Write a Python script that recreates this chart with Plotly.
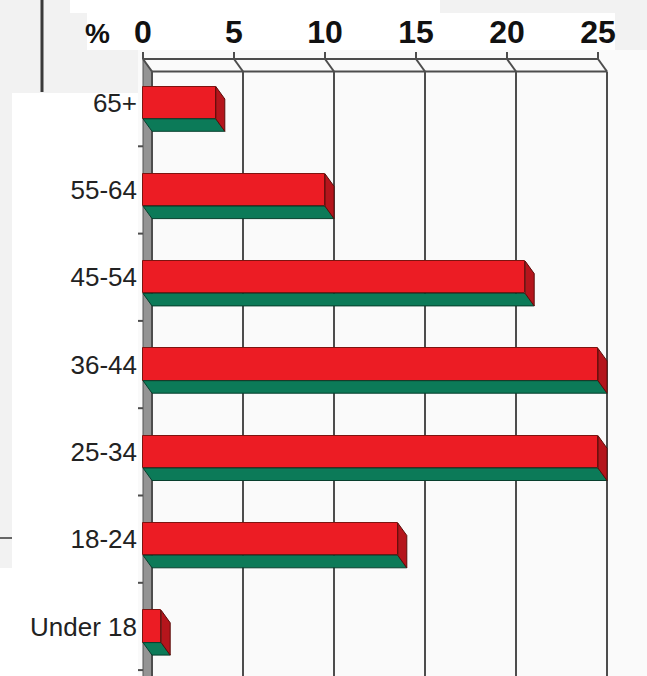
import plotly.graph_objects as go

# ---- data ----
categories = ["65+", "55-64", "45-54", "36-44", "25-34", "18-24", "Under 18"]
values = [4, 10, 21, 25, 25, 14, 1]
x_ticks = [0, 5, 10, 15, 20, 25]
x_tick_labels = ["0", "5", "10", "15", "20", "25"]
unit_label = "%"

# ---- layout constants ----
W, H = 647, 676
PLOT_L, PLOT_T = 138, 50          # plot area left / top (px)
ZERO_PX = 143                     # x pixel of value 0 on the front plane
PX_PER_UNIT = 18.2
TOP_EDGE_PX = 59                  # y pixel of the front top edge
PX_PER_CAT = 87.3
DEPTH_PX = (9, 12.5)              # 3D depth offset (right, down)

x_min = (PLOT_L - ZERO_PX) / PX_PER_UNIT
x_max = (W - ZERO_PX) / PX_PER_UNIT
y_top = (PLOT_T - TOP_EDGE_PX) / PX_PER_CAT - 0.5
y_bot = (H - TOP_EDGE_PX) / PX_PER_CAT - 0.5
DX = DEPTH_PX[0] / PX_PER_UNIT
DY = DEPTH_PX[1] / PX_PER_CAT
BAR_W = 0.37
x_last = x_ticks[-1]

RED = "#ec1c24"
RED_SIDE = "#b5151c"
GREEN = "#0c7a58"
GRID = "#4d4d4d"

pos = list(range(len(categories)))

fig = go.Figure()

# front faces of bars
fig.add_trace(go.Bar(
    x=values, y=pos, orientation="h", width=BAR_W,
    marker=dict(color=RED, line=dict(color="#7d1410", width=1)),
    hoverinfo="skip", showlegend=False,
))

# 3D faces derived from the values
for c, v in zip(pos, values):
    yb = c + BAR_W / 2
    yt = c - BAR_W / 2
    fig.add_trace(go.Scatter(
        x=[0, v, v + DX, DX, 0], y=[yb, yb, yb + DY, yb + DY, yb],
        mode="lines", fill="toself", fillcolor=GREEN,
        line=dict(color="#073f2d", width=1), hoverinfo="skip", showlegend=False,
    ))
    fig.add_trace(go.Scatter(
        x=[v, v + DX, v + DX, v, v], y=[yt, yt + DY, yb + DY, yb, yt],
        mode="lines", fill="toself", fillcolor=RED_SIDE,
        line=dict(color="#5a0d0a", width=1), hoverinfo="skip", showlegend=False,
    ))

shapes = []
# left wall
shapes.append(dict(type="path", layer="below",
                   path=f"M 0 -0.5 L {DX} {-0.5 + DY} L {DX} {y_bot + 1} L 0 {y_bot + 1} Z",
                   fillcolor="#949494", line=dict(color="#555555", width=1)))
# top edges
shapes.append(dict(type="line", layer="below", x0=0, y0=-0.5, x1=x_last, y1=-0.5,
                   line=dict(color=GRID, width=2)))
shapes.append(dict(type="line", layer="below", x0=DX, y0=-0.5 + DY, x1=x_last + DX, y1=-0.5 + DY,
                   line=dict(color=GRID, width=2)))
for k in x_ticks:
    shapes.append(dict(type="line", layer="below", x0=k, y0=-0.5, x1=k, y1=-0.5 - 7 / PX_PER_CAT,
                       line=dict(color=GRID, width=2)))
    shapes.append(dict(type="line", layer="below", x0=k, y0=-0.5, x1=k + DX, y1=-0.5 + DY,
                       line=dict(color=GRID, width=2)))
    shapes.append(dict(type="line", layer="below", x0=k + DX, y0=-0.5 + DY, x1=k + DX, y1=y_bot + 1,
                       line=dict(color=GRID, width=2)))
# category boundary ticks on the wall
for c in pos:
    shapes.append(dict(type="line", layer="below", x0=x_min, y0=c + 0.5, x1=0, y1=c + 0.5,
                       line=dict(color=GRID, width=2)))


# decorations in the margins (paper coords from pixels)
def px_x(p):
    return (p - PLOT_L) / (W - PLOT_L)


def px_y(p):
    return (H - p) / (H - PLOT_T)


def rect(x0, y0, x1, y1, color):
    return dict(type="rect", xref="paper", yref="paper", layer="below",
                x0=px_x(x0), x1=px_x(x1), y0=px_y(y1), y1=px_y(y0),
                fillcolor=color, line=dict(width=0))


shapes.append(rect(12, 93, PLOT_L, H, "#ffffff"))
shapes.append(rect(0, 568, 12, H, "#ffffff"))
shapes.append(rect(70, 0, 440, 13, "#ffffff"))
shapes.append(rect(87, 13, 615, PLOT_T, "#ffffff"))
shapes.append(dict(type="line", xref="paper", yref="paper",
                   x0=px_x(42), x1=px_x(42), y0=px_y(0), y1=px_y(92),
                   line=dict(color="#3a3a3a", width=3)))
shapes.append(dict(type="line", xref="paper", yref="paper",
                   x0=px_x(0), x1=px_x(12), y0=px_y(538), y1=px_y(538),
                   line=dict(color="#666666", width=2)))

fig.update_layout(
    width=W, height=H,
    margin=dict(l=PLOT_L, r=0, t=PLOT_T, b=0, pad=0),
    paper_bgcolor="#f2f2f2",
    plot_bgcolor="#fafafa",
    shapes=shapes,
    bargap=0,
    annotations=[dict(text=unit_label, xref="paper", yref="paper",
                      x=px_x(97), y=px_y(34), xanchor="center", yanchor="middle",
                      showarrow=False,
                      font=dict(family="Liberation Sans", size=28, color="#111", weight="bold"))],
    xaxis=dict(range=[x_min, x_max], side="top", tickvals=x_ticks, ticktext=x_tick_labels,
               showgrid=False, zeroline=False, showline=False, ticks="", automargin=False,
               tickfont=dict(family="Liberation Sans", size=32, color="#111", weight="bold"),
               fixedrange=True),
    yaxis=dict(range=[y_bot, y_top], tickvals=pos, ticktext=categories, automargin=False,
               showgrid=False, zeroline=False, showline=False, ticks="",
               tickfont=dict(family="Liberation Sans", size=26, color="#222"),
               fixedrange=True),
)

fig.write_html("out.html", config={"displayModeBar": False},
               post_script="document.body.style.margin='0px';")
